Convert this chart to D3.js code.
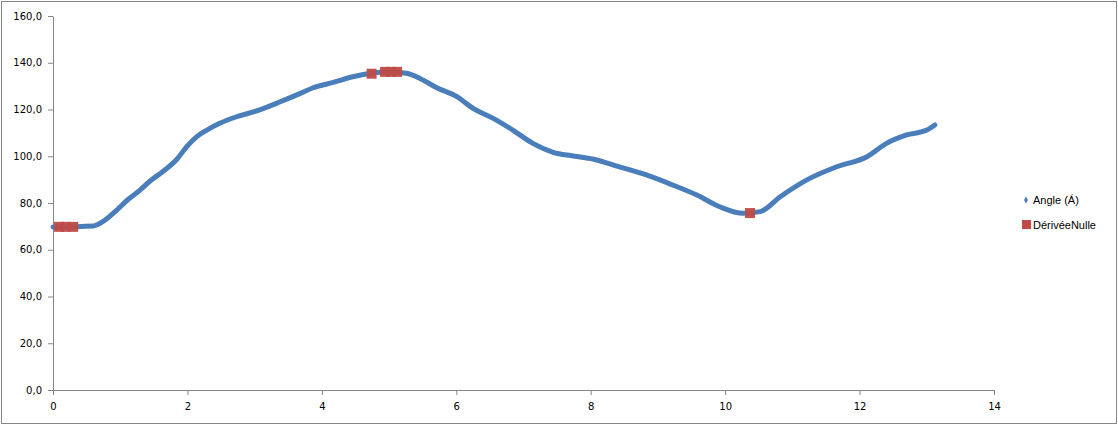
<!DOCTYPE html>
<html>
<head>
<meta charset="utf-8">
<script src="https://cdn.jsdelivr.net/npm/d3@7"></script>
<style>
  body { margin: 0; background: #fff; }
  svg { display: block; }
  .tick text { font-family: "DejaVu Sans", Verdana, sans-serif; font-size: 10px; fill: #000; }
  .legend text { font-family: "Liberation Sans", Arial, sans-serif; font-size: 11px; fill: #000; }
</style>
</head>
<body>
<svg id="chart" width="1118" height="425"></svg>
<script>
// time (s) and angle readings
var timeValues = [0.00, 0.60, 0.74, 0.95, 1.12, 1.29, 1.44, 1.64, 1.84, 1.99,
    2.14, 2.29, 2.48, 2.73, 3.03, 3.38, 3.68, 3.87, 4.17, 4.46,
    4.72, 4.97, 5.26, 5.46, 5.71, 6.01, 6.25, 6.55, 6.84, 7.14,
    7.44, 7.74, 8.09, 8.33, 8.83, 9.22, 9.58, 9.92, 10.27, 10.52,
    10.82, 11.21, 11.66, 12.11, 12.40, 12.70, 13.00, 13.12]
var angleValues = [69.7, 70.2, 72.0, 77.0, 81.6, 85.4, 89.3, 93.6, 98.6, 104.1,
    108.4, 111.2, 114.1, 116.9, 119.4, 123.3, 126.9, 129.3, 131.6, 134.0,
    135.5, 136.2, 135.5, 133.3, 129.3, 125.5, 120.5, 116.2, 111.2, 105.5,
    101.7, 100.1, 98.4, 96.3, 92.0, 87.7, 83.4, 78.4, 75.6, 76.3,
    82.7, 89.8, 95.5, 99.8, 105.5, 109.1, 111.2, 113.4]

// points where the derivative is zero
var zeroTimes = [0.09, 0.19, 0.30, 4.74, 4.94, 5.03, 5.12, 10.37]
var zeroAngles = [69.8, 69.8, 69.8, 135.3, 136.1, 136.1, 136.1, 75.7]

var xTicks = [0, 2, 4, 6, 8, 10, 12, 14]
var yTicks = [0, 20, 40, 60, 80, 100, 120, 140, 160]
var seriesNames = ["Angle (Á)", "DérivéeNulle"]

var blue = "#4a7ebb", red = "#be4b48", axisGrey = "#868686"

var svg = d3.select("#chart")

// outer frame
svg.append("rect")
    .attr("x", 1.5).attr("y", 1.5)
    .attr("width", 1115).attr("height", 422)
    .attr("fill", "#fff")
    .attr("stroke", axisGrey)

var x = d3.scaleLinear().domain([0, 14]).range([53, 994])
var y = d3.scaleLinear().domain([0, 160]).range([390, 16])

var fmt = function (d) { return d3.format(".1f")(d).replace(".", ",") }

svg.append("g")
    .attr("transform", "translate(53,0)")
    .call(d3.axisLeft(y).tickValues(yTicks).tickFormat(fmt)
        .tickSize(5).tickSizeOuter(0).tickPadding(6))

svg.append("g")
    .attr("transform", "translate(0,390)")
    .call(d3.axisBottom(x).tickValues(xTicks).tickFormat(d3.format("d"))
        .tickSize(5).tickSizeOuter(0).tickPadding(8))

svg.selectAll(".domain, .tick line").attr("stroke", axisGrey)

// blue series, dense markers drawn as a thick line
var pts = timeValues.map(function (t, i) { return [t, angleValues[i]] })
var line = d3.line()
    .x(function (d) { return x(d[0]) })
    .y(function (d) { return y(d[1]) })
    .curve(d3.curveMonotoneX)

svg.append("path")
    .datum(pts)
    .attr("d", line)
    .attr("fill", "none")
    .attr("stroke", blue)
    .attr("stroke-width", 5)
    .attr("stroke-linecap", "round")

// zero-derivative markers
var zeros = zeroTimes.map(function (t, i) { return [t, zeroAngles[i]] })
svg.selectAll("rect.zero")
    .data(zeros)
    .enter()
    .append("rect")
    .attr("class", "zero")
    .attr("x", function (d) { return x(d[0]) - 5 })
    .attr("y", function (d) { return y(d[1]) - 5 })
    .attr("width", 10).attr("height", 10)
    .attr("fill", red)
    .attr("opacity", 0.95)

// legend
var legend = svg.append("g").attr("class", "legend")
legend.append("path")
    .attr("d", d3.symbol(d3.symbolDiamond, 14)())
    .attr("transform", "translate(1026,200)")
    .attr("fill", blue)
legend.append("text")
    .attr("x", 1033).attr("y", 200).attr("dy", "0.35em")
    .text(seriesNames[0])
legend.append("rect")
    .attr("x", 1022).attr("y", 220)
    .attr("width", 9).attr("height", 9)
    .attr("fill", red)
legend.append("text")
    .attr("x", 1033).attr("y", 225).attr("dy", "0.35em")
    .text(seriesNames[1])
</script>
</body>
</html>
